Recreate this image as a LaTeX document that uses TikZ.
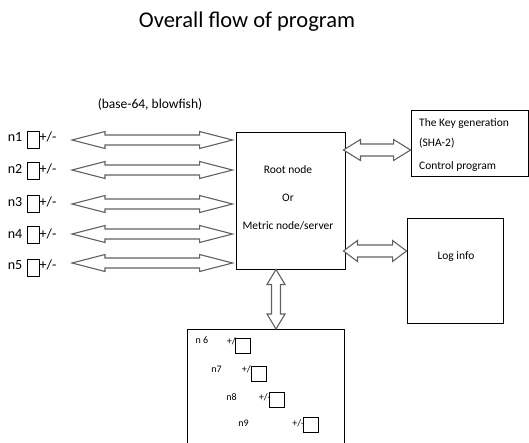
\documentclass[tikz,border=0pt]{standalone}
\usepackage{fontspec}
\setmainfont{Carlito}
\usetikzlibrary{calc}
\begin{document}
\begin{tikzpicture}[x=1pt,y=-1pt,
  box/.style={draw, line width=0.9pt, inner sep=0pt},
  sqL/.style={draw, line width=0.9pt, minimum width=12pt, minimum height=17pt, inner sep=0pt},
  sqS/.style={draw, fill=white, line width=0.9pt, minimum width=15pt, minimum height=15pt, inner sep=0pt},
  lbl/.style={font=\fontsize{14}{16}\selectfont, inner sep=0pt},
  mid/.style={font=\fontsize{11.5}{13}\selectfont, inner sep=0pt},
  small/.style={font=\fontsize{10}{12}\selectfont, inner sep=0pt},
  arrhl/.store in=\arrhl, arrhw/.store in=\arrhw, arrsw/.store in=\arrsw,
  arrhl=15, arrhw=9, arrsw=4,
  dblarrow/.style={draw=black!62, fill=white, line width=1.1pt, line join=miter,
    to path={let \p1=(\tikztostart), \p2=(\tikztotarget),
      \n1={atan2(\y2-\y1,\x2-\x1)}, \n2={veclen(\x2-\x1,\y2-\y1)}, \n3={\n2-\arrhl pt} in
      {[shift={(\p1)}, rotate=\n1] (0pt,0pt) -- (\arrhl pt,\arrhw pt) -- (\arrhl pt,\arrsw pt)
       -- (\n3,\arrsw pt) -- (\n3,\arrhw pt) -- (\n2,0pt) -- (\n3,-\arrhw pt)
       -- (\n3,-\arrsw pt) -- (\arrhl pt,-\arrsw pt) -- (\arrhl pt,-\arrhw pt) -- cycle}}}
]
\useasboundingbox (0,0) rectangle (529,442);

% title
\node[inner sep=0pt, font=\fontsize{22.5}{26}\selectfont] (title) at (247,22) {Overall flow of program};
\node[lbl, font=\fontsize{13.5}{15}\selectfont] (enc) at (150,104) {(base-64, blowfish)};

% main boxes
\node[box, minimum width=109pt, minimum height=137pt] (root) at (290.5,200.5) {};
\node[mid] (rt1) at (288,170) {Root node};
\node[mid] (rt2) at (288,198) {Or};
\node[mid] (rt3) at (288,226) {Metric node/server};

\node[box, minimum width=117pt, minimum height=66pt] (key) at (469.5,143) {};
\node[mid, anchor=west] (k1) at (419,123) {The Key generation};
\node[mid, anchor=west] (k2) at (419,143) {(SHA-2)};
\node[mid, anchor=west] (k3) at (419,166) {Control program};

\node[box, minimum width=96pt, minimum height=105pt] (log) at (455,270.5) {};
\node[mid] (logt) at (456,257) {Log info};

\node[box, minimum width=157pt, minimum height=140pt, anchor=north] (bot) at (265.5,329) {};

% left rows
\foreach \i/\ly/\sy/\ay in {1/137/139.5/140, 2/169/171/170, 3/202/203.5/204, 4/234/234.5/234, 5/265/268/263}{
  \node[lbl] (n\i) at (15,\ly) {n\i};
  \node[sqL] (s\i) at (33,\sy) {};
  \node[lbl, anchor=west] (p\i) at (39.5,\ly) {+/-};
  \coordinate (a\i) at (72,\ay);
  \draw[dblarrow, arrhl=33, arrhw=8.5, arrsw=5] (a\i) to ([xshift=-3pt]root.west |- a\i);
}

% right arrows
\coordinate (kk) at (0,150);
\coordinate (ll) at (0,251);
\draw[dblarrow, arrhl=17, arrhw=10.5, arrsw=6] ([xshift=-2pt]root.east |- kk) to (key.west |- kk);
\draw[dblarrow, arrhl=14, arrhw=10.5, arrsw=6] ([xshift=-2pt]root.east |- ll) to (log.west |- ll);

% vertical arrow
\coordinate (va) at (276,0);
\draw[dblarrow, arrhl=15, arrhw=9, arrsw=4.5] (root.south -| va) to (bot.north -| va);

% bottom box contents
\node[small] (n6) at (202,340) {n 6};
\node[small, anchor=east] (m6) at (239,341) {+/-};
\node[sqS] (q6) at (242.5,346) {};

\node[small] (n7) at (216.5,369) {n7};
\node[small, anchor=east] (m7) at (254,369) {+/-};
\node[sqS] (q7) at (259,374) {};

\node[small] (n8) at (231.5,397) {n8};
\node[small, anchor=east] (m8) at (271,397) {+/-};
\node[sqS] (q8) at (277,400) {};

\node[small] (n9) at (243.5,423) {n9};
\node[small, anchor=east] (m9) at (304.5,423) {+/-};
\node[sqS] (q9) at (311,425) {};
\end{tikzpicture}
\end{document}
